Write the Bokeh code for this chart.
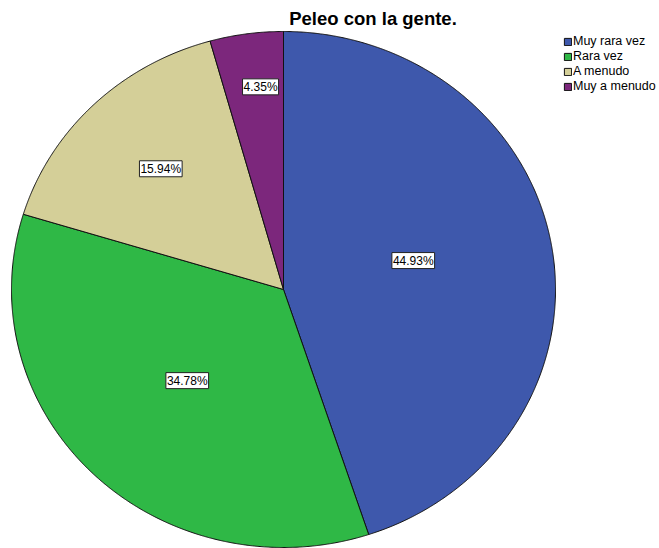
import numpy as np
from bokeh.plotting import figure
from bokeh.models import Range1d, ColumnDataSource, Legend, LegendItem, Label
from bokeh.embed import file_html
from bokeh.resources import INLINE
from bokeh.core.properties import value

# ---- data ----
categories = ["Muy rara vez", "Rara vez", "A menudo", "Muy a menudo"]
percentages = [44.93, 34.78, 15.94, 4.35]
colors = ["#3e58ac", "#2fb846", "#d4cf98", "#7c277c"]
label_radius = [0.49, 0.50, 0.65, 0.79]      # relative radial position of slice labels
label_angle_shift = [-4.1, 0.7, 0.4, 1.7]    # small angular nudges (degrees) of slice labels
title_text = "Peleo con la gente."

# ---- layout ----
W, H = 659, 548
cx, cy = 283, 289      # pie centre (screen px inside the canvas)
rx, ry = 272, 258      # pie radii (the reference pie is slightly stretched)

p = figure(width=W, height=H, x_range=Range1d(0, W), y_range=Range1d(H, 0),
           output_backend="svg", toolbar_location=None, min_border=0)
p.axis.visible = False
p.grid.visible = False
p.outline_line_color = None
p.background_fill_color = "white"
p.border_fill_color = "white"

fracs = np.array(percentages) / sum(percentages)
ends = np.cumsum(fracs) * 2 * np.pi
starts = ends - fracs * 2 * np.pi

items = []
lx, ly, lt = [], [], []
for cat, s, e, col, pct, lr, da in zip(categories, starts, ends, colors, percentages,
                                       label_radius, label_angle_shift):
    n = max(int((e - s) / 0.004), 10)
    t = np.linspace(s, e, n)
    xs = np.concatenate([[cx], cx + rx * np.sin(t)])
    ys = np.concatenate([[cy], cy - ry * np.cos(t)])
    r = p.patch(xs, ys, fill_color=col, line_color="#111111", line_width=1,
                line_join="round")
    items.append(LegendItem(label=cat, renderers=[r]))
    m = (s + e) / 2 + np.radians(da)
    lx.append(cx + lr * rx * np.sin(m))
    ly.append(cy - lr * ry * np.cos(m))
    lt.append(f"{pct:.2f}%")

src = ColumnDataSource(dict(x=lx, y=ly, text=lt))
p.text(x="x", y="y", text="text", source=src,
       text_font=value("Liberation Sans"), text_font_size="12px",
       text_color="black", text_align="center", text_baseline="middle",
       background_fill_color="white", border_line_color="#222222",
       border_line_width=1, padding=1)

legend = Legend(items=items, location=(563, 455), orientation="vertical",
                glyph_width=9, glyph_height=9, label_standoff=1,
                spacing=1, padding=0, margin=0, label_height=12,
                border_line_color=None, background_fill_alpha=0,
                label_text_font="Liberation Sans", label_text_font_size="12.5px",
                label_text_color="black")
p.add_layout(legend)

title = Label(x=372.5, y=17.7, text=title_text, text_font="Liberation Sans",
              text_font_style="bold", text_font_size="18.5px",
              text_align="center", text_baseline="alphabetic", text_color="black")
p.add_layout(title)

open("out.html", "w").write(file_html(p, INLINE))
